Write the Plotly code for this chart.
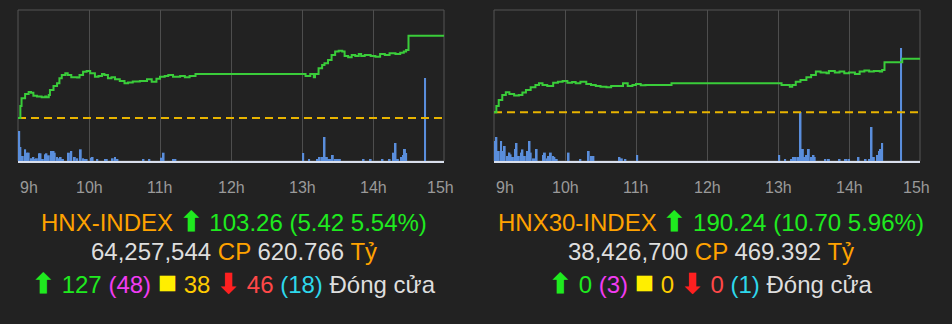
import pandas as pd
import plotly.graph_objects as go

DAY = "2023-01-01 "

# ---------------- HNX-INDEX ----------------
HNX_REF = 97.84
HNX_T = ["09:00", "09:02", "09:03", "09:06", "09:09", "09:11", "09:13", "09:16", "09:20", "09:23",
         "09:24", "09:26", "09:27", "09:30", "09:33", "09:35", "09:37", "09:40", "09:42", "09:45",
         "09:50", "09:52", "09:55", "09:58", "10:01", "10:05", "10:08", "10:11", "10:13", "10:16",
         "10:19", "10:22", "10:26", "10:30", "10:33", "10:37", "10:43", "10:49", "10:53", "10:57",
         "11:00", "11:04", "11:07", "11:11", "11:17", "11:21", "11:25", "11:30", "13:00", "13:03",
         "13:07", "13:10", "13:11", "13:14", "13:17", "13:19", "13:22", "13:25", "13:28", "13:31",
         "13:34", "13:36", "13:39", "13:42", "13:45", "13:48", "13:50", "13:53", "13:58", "14:02",
         "14:06", "14:10", "14:14", "14:19", "14:23", "14:26", "14:28", "14:30", "15:00"]
HNX_V = [97.84, 98.63, 99.14, 99.42, 99.55, 99.51, 99.31, 99.25, 99.20, 99.25,
         99.20, 99.35, 99.68, 99.95, 100.12, 100.45, 100.67, 100.78, 100.67, 100.52,
         100.50, 100.67, 100.89, 100.94, 100.78, 100.56, 100.61, 100.74, 100.67, 100.45,
         100.52, 100.39, 100.28, 100.12, 100.17, 100.25, 100.28, 100.39, 100.23, 100.43,
         100.56, 100.61, 100.67, 100.56, 100.61, 100.52, 100.61, 100.74, 100.74, 100.61,
         100.74, 100.52, 100.74, 101.11, 101.33, 101.44, 101.66, 101.99, 102.21, 102.27,
         102.21, 101.92, 101.84, 101.99, 101.92, 102.05, 101.92, 101.99, 101.92, 101.88,
         102.05, 101.99, 102.10, 102.05, 102.14, 102.21, 102.32, 103.26, 103.26]
HNX_VOL_T = ["09:01", "09:02", "09:04", "09:06", "09:08", "09:09", "09:11", "09:13", "09:14", "09:16",
             "09:18", "09:19", "09:21", "09:23", "09:24", "09:26", "09:28", "09:30", "09:31", "09:33",
             "09:35", "09:36", "09:38", "09:43", "09:45", "09:48", "09:50", "09:53", "09:55", "09:57",
             "09:58", "10:02", "10:03", "10:07", "10:14", "10:15", "10:20", "10:22", "10:24", "10:46",
             "10:51", "11:01", "11:03", "11:11", "11:13", "13:01", "13:06", "13:13", "13:15", "13:17",
             "13:19", "13:21", "13:22", "13:24", "13:26", "13:28", "13:30", "13:32", "13:52", "13:58",
             "14:08", "14:14", "14:17", "14:19", "14:20", "14:21", "14:24", "14:26", "14:27", "14:28",
             "14:44"]
HNX_VOL = [3.0, 1.4, 0.5, 1.17, 0.83, 0.83, 0.27, 0.4, 0.17, 0.27,
           0.77, 0.77, 0.17, 0.67, 0.77, 0.57, 1.0, 1.0, 0.83, 0.4,
           0.27, 0.4, 0.2, 0.83, 1.0, 0.4, 0.27, 1.17, 0.27, 0.17,
           0.17, 0.33, 0.4, 0.17, 0.17, 0.17, 0.27, 0.4, 0.17, 0.17,
           0.17, 0.33, 0.83, 0.2, 0.2, 0.8, 0.2, 0.2, 0.4, 0.4,
           2.4, 0.4, 0.2, 0.2, 0.6, 0.2, 0.2, 0.2, 0.2, 0.2,
           0.2, 0.2, 0.83, 1.8, 0.2, 0.2, 0.4, 0.6, 1.2, 0.8,
           8.3]

# ---------------- HNX30-INDEX ----------------
H30_REF = 179.54
H30_T = ["09:00", "09:02", "09:04", "09:07", "09:10", "09:13", "09:17", "09:21", "09:24", "09:27",
         "09:31", "09:35", "09:38", "09:41", "09:45", "09:50", "09:54", "09:58", "10:02", "10:06",
         "10:09", "10:13", "10:18", "10:22", "10:26", "10:30", "10:35", "10:39", "10:43", "10:49",
         "10:53", "10:57", "11:00", "11:04", "11:08", "11:14", "11:22", "11:30", "13:00", "13:03",
         "13:05", "13:10", "13:12", "13:15", "13:19", "13:24", "13:28", "13:32", "13:36", "13:41",
         "13:43", "13:48", "13:52", "13:56", "14:00", "14:05", "14:09", "14:13", "14:17", "14:21",
         "14:26", "14:28", "14:30", "14:45", "15:00"]
H30_V = [179.54, 180.80, 182.00, 183.00, 183.53, 183.20, 182.87, 183.00, 183.47, 184.00,
         184.53, 184.99, 185.33, 184.99, 184.80, 185.46, 185.66, 185.79, 185.46, 185.59,
         185.33, 185.66, 185.19, 184.99, 184.80, 184.66, 184.53, 184.80, 184.80, 185.33,
         184.80, 184.99, 185.19, 184.93, 184.99, 184.99, 184.99, 185.33, 185.33, 184.99,
         184.99, 184.66, 184.99, 185.66, 185.99, 186.53, 186.99, 187.66, 187.46, 187.32,
         187.79, 187.46, 187.66, 187.32, 187.46, 187.19, 187.66, 187.86, 187.66, 187.79,
         187.66, 187.99, 189.52, 190.24, 190.24]
H30_VOL_T = ["09:01", "09:02", "09:04", "09:06", "09:08", "09:09", "09:11", "09:13", "09:14", "09:16",
             "09:18", "09:19", "09:21", "09:23", "09:24", "09:26", "09:28", "09:30", "09:31", "09:33",
             "09:35", "09:36", "09:42", "09:43", "09:45", "09:46", "09:48", "09:50", "09:51", "09:53",
             "10:03", "10:13", "10:20", "10:22", "10:24", "10:46", "10:48", "10:51", "11:01", "13:01",
             "13:06", "13:11", "13:13", "13:15", "13:17", "13:19", "13:21", "13:22", "13:24", "13:26",
             "13:28", "13:30", "13:31", "13:40", "13:43", "13:52", "13:57", "13:58", "14:00", "14:08",
             "14:14", "14:17", "14:19", "14:20", "14:21", "14:24", "14:26", "14:27", "14:28", "14:44"]
H30_VOL = [1.0, 1.2, 0.5, 1.0, 0.5, 0.75, 0.25, 0.42, 0.33, 0.2,
           0.6, 0.9, 0.25, 0.42, 0.58, 0.25, 0.5, 1.0, 0.42, 0.13,
           0.13, 0.6, 0.3, 0.42, 0.13, 0.25, 0.42, 0.25, 0.2, 0.1,
           0.42, 0.1, 0.5, 0.25, 0.25, 0.2, 0.13, 0.1, 0.3, 0.3,
           0.1, 0.1, 0.2, 0.2, 0.2, 2.45, 0.6, 0.2, 0.3, 0.6,
           0.2, 0.3, 0.2, 0.1, 0.1, 0.1, 0.1, 0.1, 0.1, 0.2,
           0.1, 0.1, 1.7, 0.1, 0.2, 0.3, 0.5, 0.6, 0.9, 5.65]

TICK_T = ["09:00", "10:00", "11:00", "12:00", "13:00", "14:00", "15:00"]
TICK_LABELS = ["9h", "10h", "11h", "12h", "13h", "14h", "15h"]

PANELS = [
    dict(name="HNX-INDEX", ref=HNX_REF, t=HNX_T, v=HNX_V, vt=HNX_VOL_T, vol=HNX_VOL,
         prange=[95.01, 104.95], vrange=[0, 15.1],
         close="103.26", chg="5.42", pct="5.54%", shares="64,257,544", value="620.766",
         up="127", ceil="(48)", same="38", down="46", floor="(18)"),
    dict(name="HNX30-INDEX", ref=H30_REF, t=H30_T, v=H30_V, vt=H30_VOL_T, vol=H30_VOL,
         prange=[169.82, 199.96], vrange=[0, 7.55],
         close="190.24", chg="10.70", pct="5.96%", shares="38,426,700", value="469.392",
         up="0", ceil="(3)", same="0", down="0", floor="(1)"),
]


def ts(lst):
    return pd.to_datetime([DAY + s for s in lst])


BG = "#222222"
GREEN_LINE = "#3ACD3A"
BAR = "#5A8EDC"
REF_C = "#E8B400"
GRID = "#4E4E4E"
W, H = 952, 324
FONT = "Liberation Sans, Arial, sans-serif"

fig = go.Figure()
x_domains = [[18 / W, 444 / W], [494 / W, 920 / W]]
y_domain = [(H - 161) / H, (H - 10) / H]
text_x = [234 / W, 710.5 / W]

layout = dict(
    width=W, height=H, margin=dict(l=0, r=0, t=0, b=0),
    paper_bgcolor=BG, plot_bgcolor=BG, showlegend=False,
    font=dict(family=FONT),
)
annotations = []
shapes = []

for i, p in enumerate(PANELS):
    xa = "x" if i == 0 else "x2"
    ya_vol = "y" if i == 0 else "y3"
    ya_px = "y2" if i == 0 else "y4"
    xk = "xaxis" if i == 0 else "xaxis2"
    yk_vol = "yaxis" if i == 0 else "yaxis3"
    yk_px = "yaxis2" if i == 0 else "yaxis4"

    t0, t1 = ts(["09:00", "15:00"])
    layout[xk] = dict(domain=x_domains[i], type="date", range=[t0, t1],
                      anchor=ya_vol, tickvals=ts(TICK_T), showticklabels=False,
                      showgrid=True, gridcolor=GRID, gridwidth=1,
                      showline=True, linecolor="#D9DFEC", linewidth=2,
                      zeroline=False, ticks="")
    layout[yk_vol] = dict(domain=y_domain, range=p["vrange"], anchor=xa,
                          showgrid=False, showticklabels=False, zeroline=False)
    layout[yk_px] = dict(domain=y_domain, range=p["prange"], anchor=xa,
                         overlaying=ya_vol, showgrid=False, showticklabels=False,
                         zeroline=False)

    fig.add_trace(go.Bar(x=ts(p["vt"]), y=p["vol"], width=100000,
                         marker=dict(color=BAR, line=dict(width=0)),
                         xaxis=xa, yaxis=ya_vol, hoverinfo="skip"))
    fig.add_trace(go.Scatter(x=ts(["09:00", "15:00"]), y=[p["ref"], p["ref"]],
                             mode="lines", line=dict(color=REF_C, width=2, dash="8px,5px"),
                             xaxis=xa, yaxis=ya_px, hoverinfo="skip"))
    fig.add_trace(go.Scatter(x=ts(p["t"]), y=p["v"], mode="lines",
                             line=dict(color=GREEN_LINE, width=2, shape="hv"),
                             xaxis=xa, yaxis=ya_px, hoverinfo="skip"))

    # frame
    shapes.append(dict(type="rect", xref=f"{xa} domain", yref=f"{ya_vol} domain",
                       x0=0, x1=1, y0=0, y1=1, line=dict(color="#555555", width=1),
                       layer="below"))

    # tick labels
    for j, (tt, lab) in enumerate(zip(TICK_T, TICK_LABELS)):
        anchor = "center"
        shift = 0
        if j == 0:
            anchor = "left"
        elif j == len(TICK_T) - 1:
            shift = -4
        annotations.append(dict(x=ts([tt])[0], y=(H - 187) / H, xref=xa, yref="paper",
                                text=lab, showarrow=False, xanchor=anchor, yanchor="middle",
                                xshift=shift,
                                font=dict(size=16, color="#9A9A9A", family=FONT)))

    ORANGE = "#FFA200"
    GREEN = "#1FEA1F"
    LIGHT = "#DEDEDE"
    UP = f"<span style='color:{GREEN};font-size:27px'><b>⬆</b></span>"
    DOWN = "<span style='color:#FF2020;font-size:27px'><b>⬇</b></span>"
    SQ = "<span style='color:#FFEE00;font-size:32px'>■</span>"
    line1 = (f"<span style='color:{ORANGE}'>{p['name']}</span> {UP} "
             f"<span style='color:{GREEN}'>{p['close']} ({p['chg']} {p['pct']})</span>")
    line2 = (f"<span style='color:{LIGHT}'>{p['shares']}</span> "
             f"<span style='color:{ORANGE}'>CP</span> "
             f"<span style='color:{LIGHT}'>{p['value']}</span> "
             f"<span style='color:{ORANGE}'>Tỷ</span>")
    line3 = (f"{UP} <span style='color:{GREEN}'>{p['up']}</span> "
             f"<span style='color:#F23CF2'>{p['ceil']}</span> "
             f"{SQ} "
             f"<span style='color:#FFCC00'>{p['same']}</span> "
             f"{DOWN} "
             f"<span style='color:#FF4848'>{p['down']}</span> "
             f"<span style='color:#2ED8EC'>{p['floor']}</span> "
             f"<span style='color:{LIGHT}'>Đóng cửa</span>")
    for txt, yy in [(line1, 221.7), (line2, 251.7), (line3, 282.3)]:
        annotations.append(dict(x=text_x[i], y=(H - yy) / H, xref="paper", yref="paper",
                                text=txt, showarrow=False, xanchor="center", yanchor="middle",
                                font=dict(size=24, family=FONT)))

layout["annotations"] = annotations
layout["shapes"] = shapes
fig.update_layout(**layout)
fig.write_html("out.html")
